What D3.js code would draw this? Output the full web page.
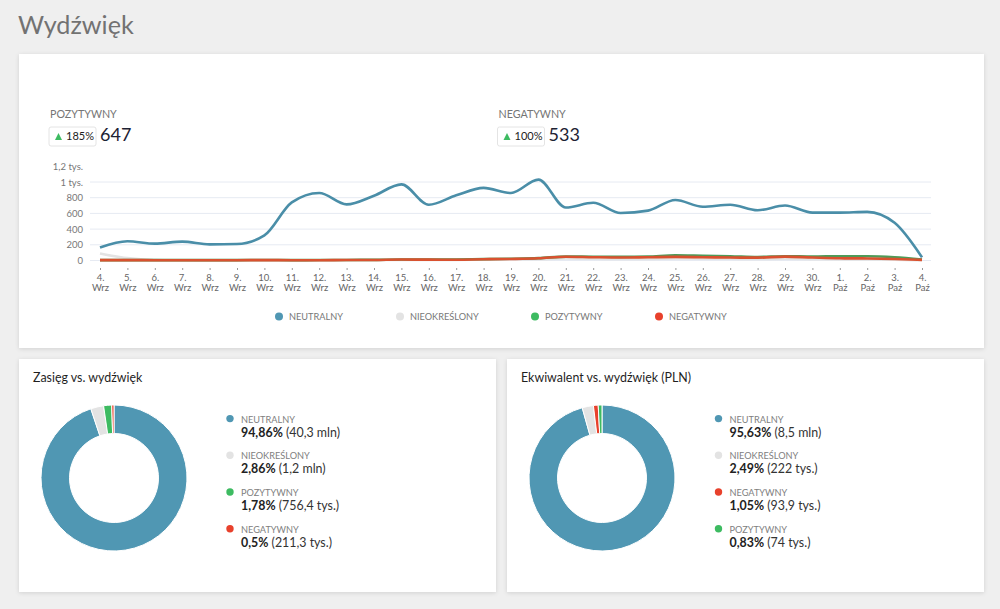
<!DOCTYPE html>
<html lang="pl">
<head>
<meta charset="utf-8">
<title>Wydźwięk</title>
<script src="https://cdn.jsdelivr.net/npm/d3@7"></script>
<style>
  html, body { margin: 0; padding: 0; background: #efefef; }
  svg { display: block; font-family: Lato, sans-serif; }
  .card { fill: #fff; filter: drop-shadow(0 1px 2px rgba(0,0,0,.12)); }
  .axis path { display: none; }
  .axis text { font-size: 9.5px; fill: #666; font-family: Lato, sans-serif; }
</style>
</head>
<body>
<div id="chart"></div>
<script>
// dane wykresu
const days = ['4. Wrz','5. Wrz','6. Wrz','7. Wrz','8. Wrz','9. Wrz','10. Wrz','11. Wrz','12. Wrz','13. Wrz','14. Wrz','15. Wrz','16. Wrz','17. Wrz','18. Wrz','19. Wrz','20. Wrz','21. Wrz','22. Wrz','23. Wrz','24. Wrz','25. Wrz','26. Wrz','27. Wrz','28. Wrz','29. Wrz','30. Wrz','1. Paź','2. Paź','3. Paź','4. Paź'];
const neutralny = [165,245,215,240,205,210,320,740,860,715,825,970,710,830,925,860,1030,675,735,605,635,770,685,710,640,700,610,610,620,480,40];
const nieokreslony = [90,30,8,6,5,5,5,4,4,5,6,8,8,8,10,12,15,25,22,20,20,25,24,22,20,22,18,14,12,10,3];
const pozytywny = [5,5,5,5,5,5,6,5,6,7,8,12,12,13,18,22,30,50,48,46,50,65,60,55,45,55,50,55,55,42,12];
const negatywny = [5,5,4,4,4,4,5,4,4,6,7,12,11,10,16,20,28,48,42,38,42,46,42,38,36,50,38,28,26,20,8];

const yTicks = [0,200,400,600,800,1000,1200];

const lineNames = ['NEUTRALNY','NIEOKREŚLONY','POZYTYWNY','NEGATYWNY'];
const lineSeries = [neutralny, nieokreslony, pozytywny, negatywny];

const sentimentColors = {
  NEUTRALNY: '#5097b3',
  'NIEOKREŚLONY': '#e3e3e3',
  POZYTYWNY: '#3dbb61',
  NEGATYWNY: '#e8412c'
};
const lineColors = ['#4a8ea8','#e3e3e3','#4f9a57','#d9512f'];

const reachNames = ['NEUTRALNY','NIEOKREŚLONY','POZYTYWNY','NEGATYWNY'];
const reachShares = [94.86,2.86,1.78,0.5];
const reachLabels = ['94,86%','2,86%','1,78%','0,5%'];
const reachAmounts = ['(40,3 mln)','(1,2 mln)','(756,4 tys.)','(211,3 tys.)'];

const valueNames = ['NEUTRALNY','NIEOKREŚLONY','NEGATYWNY','POZYTYWNY'];
const valueShares = [95.63,2.49,1.05,0.83];
const valueLabels = ['95,63%','2,49%','1,05%','0,83%'];
const valueAmounts = ['(8,5 mln)','(222 tys.)','(93,9 tys.)','(74 tys.)'];

const svg = d3.select('#chart').append('svg')
  .attr('width', 1000)
  .attr('height', 609);

svg.append('text').attr('x', 18).attr('y', 34)
  .style('font-size', '25.2px').style('fill', '#727272').text('Wydźwięk');

// karty
[[19,54,965,294],[19,359,477,233],[507,359,477,233]].forEach(c => {
  svg.append('rect').attr('class', 'card')
    .attr('x', c[0]).attr('y', c[1]).attr('width', c[2]).attr('height', c[3]);
});

// liczniki nad wykresem
function counter(x, name, pct, total) {
  const g = svg.append('g').attr('transform', `translate(${x},0)`);
  g.append('text').attr('x', 0).attr('y', 118)
    .style('font-size', '10.7px').style('fill', '#757575').text(name);
  g.append('rect').attr('x', -1).attr('y', 127).attr('width', 47).attr('height', 19).attr('rx', 2)
    .style('fill', '#fff').style('stroke', '#e4e4e4');
  g.append('path').attr('d', 'M5 140 L12 140 L8.5 133 Z').style('fill', '#3dbb61');
  g.append('text').attr('x', 16).attr('y', 140)
    .style('font-size', '11px').style('fill', '#222').text(pct);
  g.append('text').attr('x', 50).attr('y', 141)
    .style('font-size', '18px').style('fill', '#1d2233').text(total);
}
counter(50, 'POZYTYWNY', '185%', '647');
counter(498.5, 'NEGATYWNY', '100%', '533');

// wykres liniowy
const x = d3.scalePoint().domain(days).range([100, 922]);
const y = d3.scaleLinear().domain([0, 1200]).range([260.5, 166.3]);

const yFormat = d => d === 0 ? '0' : d < 1000 ? String(d) : String(d / 1000).replace('.', ',') + ' tys.';

const yAxis = svg.append('g').attr('class', 'axis')
  .attr('transform', 'translate(86,0)')
  .call(d3.axisLeft(y).tickValues(yTicks).tickFormat(yFormat).tickSize(0).tickPadding(3));
yAxis.selectAll('text').style('font-size', '9.5px').style('fill', '#777');

svg.append('g').selectAll('line')
  .data(yTicks.slice(0, -1))
  .join('line')
  .attr('x1', 90).attr('x2', 931)
  .attr('y1', d => y(d)).attr('y2', d => y(d))
  .style('stroke', '#e6eaf2').style('stroke-width', 1);

const xAxis = svg.append('g').attr('class', 'axis')
  .attr('transform', 'translate(0,268)')
  .call(d3.axisBottom(x).tickSize(2).tickPadding(2).tickFormat(''));
xAxis.selectAll('line').style('stroke', '#999');
xAxis.selectAll('.tick').each(function(d) {
  const parts = d.split(' ');
  const t = d3.select(this).append('text').attr('text-anchor', 'middle').attr('fill', '#777');
  t.append('tspan').attr('x', 0).attr('y', 13).text(parts[0]);
  t.append('tspan').attr('x', 0).attr('y', 22.5).text(parts[1]);
});

const line = d3.line()
  .x((d, i) => x(days[i]))
  .y(d => y(d))
  .curve(d3.curveMonotoneX);

svg.append('g').selectAll('path')
  .data(lineSeries)
  .join('path')
  .attr('d', line)
  .style('fill', 'none')
  .style('stroke', (d, i) => lineColors[i])
  .style('stroke-width', 2.6)
  .style('stroke-linejoin', 'round');

// legenda wykresu
const legendX = [279, 400, 535, 659];
const legend = svg.append('g').selectAll('g')
  .data(lineNames)
  .join('g')
  .attr('transform', (d, i) => `translate(${legendX[i]},316.5)`);
legend.append('circle').attr('r', 4).style('fill', d => sentimentColors[d]);
legend.append('text').attr('x', 10).attr('y', 3.5)
  .style('font-size', '9.2px').style('fill', '#777').text(d => d);

// wykresy kołowe
function donut(cx, title, titleX, legendLeft, names, shares, labels, amounts) {
  svg.append('text').attr('x', titleX).attr('y', 382)
    .style('font-size', '12.4px').style('fill', '#1f1f1f').text(title);

  const pie = d3.pie().sort(null).value(d => d)(shares);
  const arc = d3.arc().innerRadius(44.5).outerRadius(73);
  svg.append('g').attr('transform', `translate(${cx},478)`)
    .selectAll('path')
    .data(pie)
    .join('path')
    .attr('d', arc)
    .style('fill', (d, i) => sentimentColors[names[i]])
    .style('stroke', '#fff')
    .style('stroke-width', 1);

  const rows = svg.append('g').selectAll('g')
    .data(names)
    .join('g')
    .attr('transform', (d, i) => `translate(${legendLeft},${418.6 + i * 36.7})`);
  rows.append('circle').attr('r', 3.7).style('fill', d => sentimentColors[d]);
  rows.append('text').attr('x', 11).attr('y', 4)
    .style('font-size', '9.2px').style('fill', '#808080').text(d => d);
  const val = rows.append('text').attr('x', 11).attr('y', 18)
    .style('font-size', '12.4px').style('fill', '#333');
  val.append('tspan').style('font-weight', 700).style('fill', '#222').text((d, i) => labels[i]);
  val.append('tspan').text((d, i) => ' ' + amounts[i]);
}
donut(114, 'Zasięg vs. wydźwięk', 33, 230, reachNames, reachShares, reachLabels, reachAmounts);
donut(602, 'Ekwiwalent vs. wydźwięk (PLN)', 521, 718.5, valueNames, valueShares, valueLabels, valueAmounts);
</script>
</body>
</html>
